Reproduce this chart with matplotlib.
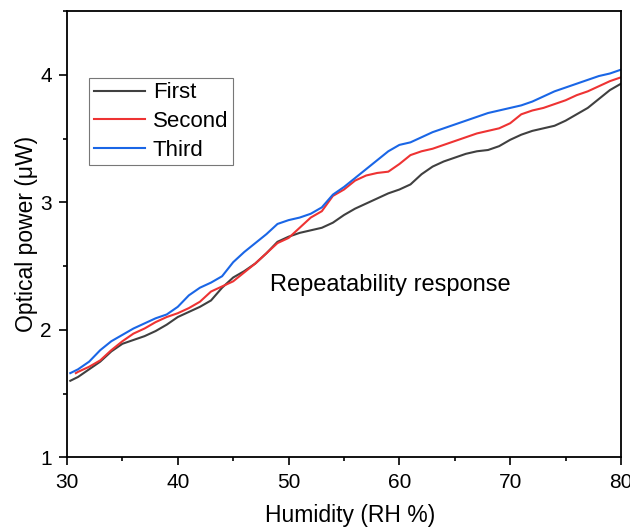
import numpy as np
import matplotlib
matplotlib.use('Agg')
import matplotlib.pyplot as plt
from matplotlib.ticker import MultipleLocator

plt.rcParams['font.family'] = ['Liberation Sans', 'DejaVu Sans']

# humidity grid (RH %)
hum = [30.3] + list(range(31, 81))

first = [1.60, 1.63, 1.69, 1.75, 1.83, 1.89, 1.92, 1.95, 1.99, 2.04,
         2.10, 2.14, 2.18, 2.23, 2.33, 2.41, 2.46, 2.52, 2.60, 2.69,
         2.73, 2.76, 2.78, 2.80, 2.84, 2.90, 2.95, 2.99, 3.03, 3.07,
         3.10, 3.14, 3.22, 3.28, 3.32, 3.35, 3.38, 3.40, 3.41, 3.44,
         3.49, 3.53, 3.56, 3.58, 3.60, 3.64, 3.69, 3.74, 3.81, 3.88, 3.93]

second = [1.66, 1.67, 1.71, 1.76, 1.84, 1.91, 1.97, 2.01, 2.06, 2.10,
          2.13, 2.17, 2.22, 2.30, 2.34, 2.38, 2.45, 2.52, 2.60, 2.68,
          2.72, 2.80, 2.88, 2.93, 3.05, 3.10, 3.17, 3.21, 3.23, 3.24,
          3.30, 3.37, 3.40, 3.42, 3.45, 3.48, 3.51, 3.54, 3.56, 3.58,
          3.62, 3.69, 3.72, 3.74, 3.77, 3.80, 3.84, 3.87, 3.91, 3.95, 3.98]

third = [1.66, 1.69, 1.75, 1.84, 1.91, 1.96, 2.01, 2.05, 2.09, 2.12,
         2.18, 2.27, 2.33, 2.37, 2.42, 2.53, 2.61, 2.68, 2.75, 2.83,
         2.86, 2.88, 2.91, 2.96, 3.06, 3.12, 3.19, 3.26, 3.33, 3.40,
         3.45, 3.47, 3.51, 3.55, 3.58, 3.61, 3.64, 3.67, 3.70, 3.72,
         3.74, 3.76, 3.79, 3.83, 3.87, 3.90, 3.93, 3.96, 3.99, 4.01, 4.04]

# red starts a bit later than the other two
hum_second = [30.8] + list(range(31, 81))

fig = plt.figure(figsize=(6.3, 5.3), dpi=100)
ax = fig.add_axes([0.1063, 0.1372, 0.8794, 0.842])

ax.plot(hum, first, color='#404040', lw=1.5, label='First')
ax.plot(hum_second, second, color='#ee3333', lw=1.5, label='Second')
ax.plot(hum, third, color='#1a66e6', lw=1.5, label='Third')

ax.set_xlim(30, 80)
ax.set_ylim(1, 4.5)
ax.xaxis.set_major_locator(MultipleLocator(10))
ax.xaxis.set_minor_locator(MultipleLocator(5))
ax.yaxis.set_major_locator(MultipleLocator(1))
ax.yaxis.set_minor_locator(MultipleLocator(0.5))
ax.tick_params(which='major', direction='out', length=6, width=1.2, labelsize=15, pad=5)
ax.tick_params(which='minor', direction='out', length=3, width=1.2)
for s in ax.spines.values():
    s.set_linewidth(1.3)

ax.set_xlabel('Humidity (RH %)', fontsize=16.5)
ax.xaxis.set_label_coords(0.511, -0.105)
ax.set_ylabel('Optical power (μW)', fontsize=16.5)
ax.yaxis.set_label_coords(-0.052, 0.5)

ax.text(48.3, 2.35, 'Repeatability response', fontsize=17, va='center')

leg = ax.legend(loc='upper left', bbox_to_anchor=(0.04, 0.85), fontsize=16,
                frameon=True, fancybox=False, edgecolor='#555555',
                handlelength=2.3, handletextpad=0.36, borderpad=0.2,
                labelspacing=0.35, borderaxespad=0)
leg.get_frame().set_linewidth(0.8)

fig.savefig('out.png', dpi=100)
